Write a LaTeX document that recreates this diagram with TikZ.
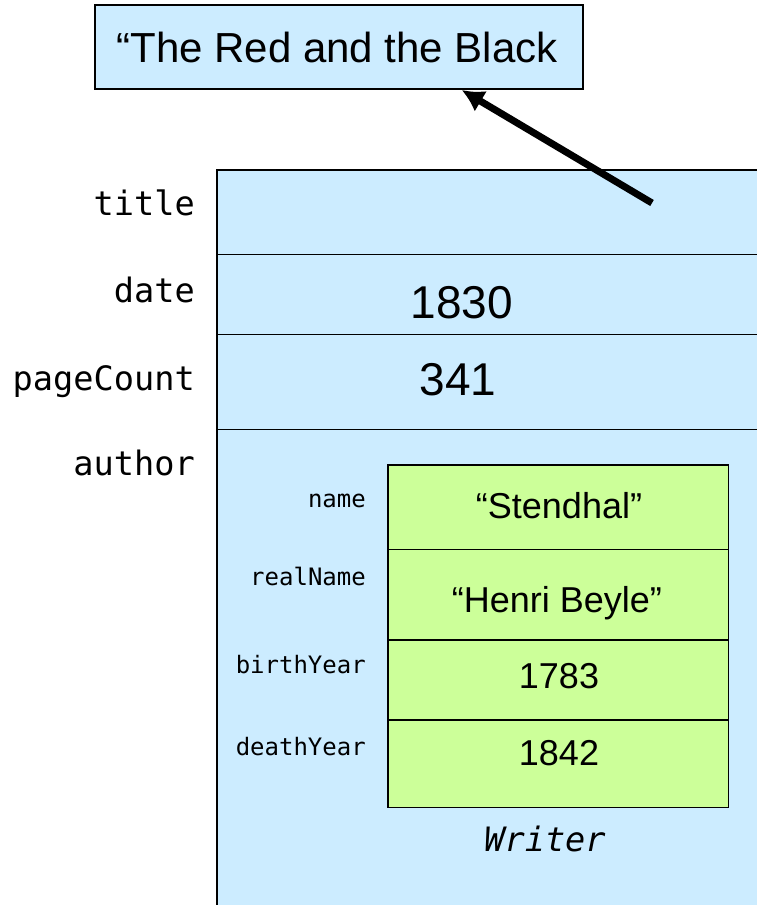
\documentclass[tikz,border=0pt]{standalone}
\usepackage{fontspec}
\setmainfont{Liberation Sans}
\setmonofont{DejaVu Sans Mono}
\usetikzlibrary{arrows.meta}
\definecolor{objblue}{RGB}{204,236,255}
\definecolor{objgreen}{RGB}{204,255,153}
\tikzset{
  cell/.style={draw=black, line width=1.3pt, anchor=north west, inner sep=0pt, outer sep=0pt},
  bluecell/.style={cell, fill=objblue},
  greencell/.style={cell, fill=objgreen},
  bigval/.style={anchor=base, inner sep=0pt, font=\fontsize{46}{52}\selectfont},
  smallval/.style={anchor=base, inner sep=0pt, font=\fontsize{36}{42}\selectfont},
  fieldlabel/.style={anchor=base east, inner sep=0pt, font=\ttfamily\fontsize{33.6}{40}\selectfont},
  sublabel/.style={anchor=base east, inner sep=0pt, font=\ttfamily\fontsize{24}{28}\selectfont},
  pointer/.style={line width=7pt, -{Latex[length=22pt,width=24pt]}},
}
\begin{document}
\begin{tikzpicture}[x=1pt,y=-1pt]
\useasboundingbox (0,0) rectangle (757,905);

% string object
\node[bluecell, minimum width=488pt, minimum height=84pt] (strbox) at (95,5) {};
\node[anchor=base, inner sep=0pt, font=\fontsize{42}{50}\selectfont] (strtext) at (337,62.7) {“The Red and the Black};

% book object: one cell per field
\node[bluecell, minimum width=550pt, minimum height=84.3pt] (titlecell) at (217,170) {};
\node[bluecell, minimum width=550pt, minimum height=80pt] (datecell) at (217,254.3) {};
\node[bluecell, minimum width=550pt, minimum height=95pt] (pagecell) at (217,334.3) {};
\node[bluecell, minimum width=550pt, minimum height=490pt] (authorcell) at (217,429.3) {};

\node[fieldlabel] (titlelbl) at (195,215) {title};
\node[fieldlabel] (datelbl) at (195,302.7) {date};
\node[fieldlabel] (pagelbl) at (195,390) {pageCount};
\node[fieldlabel] (authorlbl) at (195,475) {author};

\node[bigval] (dateval) at (461.6,318.3) {1830};
\node[bigval] (pageval) at (458,395) {341};

% nested writer object
\node[greencell, minimum width=340.5pt, minimum height=84.3pt] (namecell) at (388,465) {};
\node[greencell, minimum width=340.5pt, minimum height=90.7pt] (realcell) at (388,549.3) {};
\node[greencell, minimum width=340.5pt, minimum height=80pt] (birthcell) at (388,640) {};
\node[greencell, minimum width=340.5pt, minimum height=87.3pt] (deathcell) at (388,720) {};

\node[sublabel] (namelbl) at (366,507) {name};
\node[sublabel] (reallbl) at (366,585) {realName};
\node[sublabel] (birthlbl) at (366,673) {birthYear};
\node[sublabel] (deathlbl) at (366,755) {deathYear};

\node[smallval] (nameval) at (559,518.3) {“Stendhal”};
\node[smallval] (realval) at (557,612.7) {“Henri Beyle”};
\node[smallval] (birthval) at (559,688.3) {1783};
\node[smallval] (deathval) at (559,765) {1842};

\node[anchor=base, inner sep=0pt, font=\ttfamily\itshape\fontsize{33.6}{40}\selectfont] (typelbl) at (545,851.7) {Writer};

% reference from the title field to the string
\coordinate (ptrtail) at (652,203);
\coordinate (ptrtip) at (461.7,90);
\draw[pointer] (ptrtail) -- (ptrtip);
\end{tikzpicture}
\end{document}
